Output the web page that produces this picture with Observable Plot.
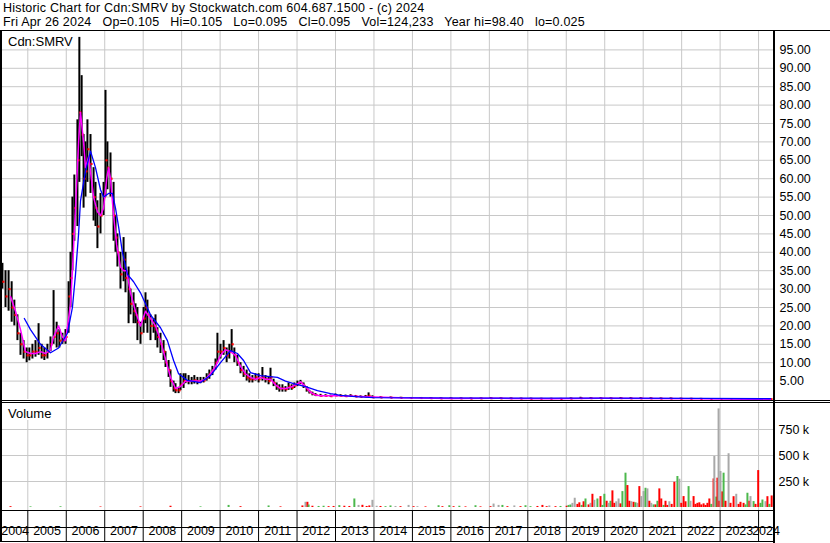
<!DOCTYPE html>
<html><head><meta charset="utf-8">
<script src="https://cdn.jsdelivr.net/npm/d3@7"></script>
<script src="https://cdn.jsdelivr.net/npm/@observablehq/plot@0.6"></script>
<style>
html,body{margin:0;padding:0;background:#fff;}
#wrap{position:relative;width:830px;height:543px;overflow:hidden;font-family:"Liberation Sans",Arial,sans-serif;color:#000;background:#fff;}
.hl{position:absolute;left:3px;font-size:12.5px;line-height:13px;letter-spacing:0.2px;white-space:pre;}
.ln{position:absolute;background:#000;}
.tag{position:absolute;left:2px;background:#fff;font-size:13px;line-height:13px;height:13px;padding:4px 3px 0 6px;white-space:pre;}
#price,#vol{position:absolute;left:0;}
#price{top:31px;} #vol{top:403px;}
</style></head>
<body><div id="wrap">
<div class="hl" style="top:2px">Historic Chart for Cdn:SMRV by Stockwatch.com 604.687.1500 - (c) 2024</div>
<div class="hl" style="top:16px">Fri Apr 26 2024   Op=0.105   Hi=0.105   Lo=0.095   Cl=0.095   Vol=124,233   Year hi=98.40   lo=0.025</div>
<div class="ln" style="left:0;top:30px;width:830px;height:1px"></div>
<div id="price"></div>
<div id="vol"></div>
<div class="tag" style="top:31px">Cdn:SMRV</div>
<div class="tag" style="top:403px">Volume</div>
<div class="ln" style="left:0;top:400px;width:830px;height:1px"></div>
<div class="ln" style="left:0;top:402px;width:830px;height:1px"></div>
<div class="ln" style="left:0;top:510px;width:775px;height:1px"></div>
<div class="ln" style="left:0;top:527px;width:775px;height:1px"></div>
<div class="ln" style="left:0;top:541px;width:775px;height:1px"></div>
<div class="ln" style="left:0;top:31px;width:2px;height:511px"></div>
<div class="ln" style="left:773px;top:31px;width:2px;height:512px"></div>
</div>
<script>
// ---- data (decimal years) ----
const xStart = 2004.342, xEnd = 2024.388;
const yearTicks = [2005,2006,2007,2008,2009,2010,2011,2012,2013,2014,2015,2016,2017,2018,2019,2020,2021,2022,2023,2024];
const yearLabels = [2004,2005,2006,2007,2008,2009,2010,2011,2012,2013,2014,2015,2016,2017,2018,2019,2020,2021,2022,2023,2024];
const priceTicks = [5,10,15,20,25,30,35,40,45,50,55,60,65,70,75,80,85,90,95];
const volTicks = [250000,500000,750000];

const priceYear = [2004.34,2004.42,2004.50,2004.58,2004.65,2004.73,2004.81,2004.89,2004.97,2005.04,2005.12,2005.20,2005.28,2005.36,2005.43,2005.51,2005.59,2005.67,2005.75,2005.82,2005.90,2005.98,2006.06,2006.11,2006.16,2006.21,2006.29,2006.34,2006.40,2006.45,2006.50,2006.55,2006.63,2006.71,2006.76,2006.81,2006.89,2006.97,2007.02,2007.07,2007.15,2007.23,2007.28,2007.33,2007.41,2007.49,2007.54,2007.62,2007.67,2007.75,2007.80,2007.85,2007.93,2008.01,2008.06,2008.11,2008.19,2008.27,2008.32,2008.37,2008.45,2008.53,2008.58,2008.66,2008.71,2008.79,2008.84,2008.92,2008.97,2009.05,2009.10,2009.18,2009.26,2009.33,2009.41,2009.49,2009.57,2009.65,2009.72,2009.80,2009.88,2009.93,2010.01,2010.09,2010.17,2010.24,2010.30,2010.37,2010.45,2010.53,2010.61,2010.69,2010.76,2010.84,2010.92,2011.00,2011.10,2011.18,2011.26,2011.31,2011.39,2011.47,2011.54,2011.62,2011.70,2011.78,2011.86,2011.93,2012.01,2012.09,2012.17,2012.25,2012.32,2012.40,2012.48,2012.61,2012.74,2012.87,2013.00,2013.13,2013.26,2013.39,2013.52,2013.65,2013.78,2013.86,2013.96,2014.17,2014.43,2014.69,2014.95,2015.21,2015.47,2015.73,2015.99,2016.25,2016.51,2016.77,2017.03,2017.29,2017.55,2017.81,2018.07,2018.33,2018.59,2018.85,2019.11,2019.37,2019.63,2019.89,2020.15,2020.41,2020.67,2020.93,2021.19,2021.45,2021.71,2021.97,2022.23,2022.49,2022.75,2023.01,2023.27,2023.53,2023.79,2024.05,2024.31];
const priceHigh = [37,35,35,32,27,23,18,16,14,14,15,16,20.6,15,14,15,17,29.6,21,19,18,19,32,40,55,61,76,98.4,88,72,70,76,72,63,59,54,56,59,84,70,67,59,50,45,40,44,40,36,30,29,26,25,21,25,29,27,23,22,23,19.5,18,16,13,10.6,8,5,4.3,3.3,7,7,7,6.5,6,6.5,6,6,6,7,8,9,11,18,15,16,14,15,19,14,12,10,9,8,7,6.5,7,7,8.7,6.5,6,8.5,5.5,4.5,4,4,3.5,4.5,4,4.5,5,5.2,4.5,3.5,2.5,2,1.6,1.4,1.3,1.2,1.5,1.3,1.2,1.3,1.1,1.0,1.1,1.8,1.0,0.8,0.7,0.6,0.55,0.5,0.5,0.45,0.45,0.4,0.4,0.4,0.5,0.45,0.4,0.35,0.35,0.3,0.3,0.3,0.4,0.6,0.5,0.5,0.45,0.55,0.5,0.5,0.45,0.4,0.4,0.35,0.3,0.3,0.25,0.25,0.2,0.2,0.15,0.15,0.105];
const priceLow = [30,25,24,21,20,16,12,11,10,10.5,11,11.5,12,11,10.6,11,13,15,14,14,15,15,18,25,35,43,47,59,66,52,55,59,56,48.5,47,41,45,50,55,57,55,43,40,36,30,32,29,20.6,23,20.6,20.6,16,15,18,20.6,18,16,18,16,14,12.5,10.6,8.7,6,3.3,2,1.6,1.6,2.4,3,4.3,4,4,4.2,4,4.3,4.5,5,5.5,6.5,8,10,11,12,10,11,13,10,9,7,6,5,4.5,4.5,5,4.5,5,4.5,4,5,3.5,2.5,2,2,2,2.5,2.5,3,3.5,4,3,2,1.5,1,0.8,0.7,0.7,0.6,0.8,0.7,0.6,0.7,0.6,0.5,0.5,0.6,0.4,0.4,0.35,0.3,0.3,0.25,0.25,0.2,0.2,0.2,0.2,0.2,0.25,0.2,0.2,0.15,0.15,0.15,0.1,0.1,0.15,0.2,0.2,0.2,0.15,0.2,0.2,0.2,0.2,0.15,0.15,0.1,0.1,0.1,0.08,0.05,0.05,0.05,0.05,0.05,0.095];
const priceClose = [32,28,30,25,23,18,15,13,12,12,13,13,14,12,12,13,15,17,18,16,16,17,28,33,45,52,65,78,72,60,62,68,64,55,52,47,50,55,65,63,60,50,44,40,34,38,33,30,26,24,23,21,18,22,25,23,20,20,19,17,15,13,10,8,5,3,2.5,2.5,4,5,5,5,5,5.2,5,5,5.2,6,7,8,10,13,13,14,12,13,15,12,10,8,7,6,5.5,5.5,6,5.5,6,5.5,5,6,4.5,3.5,3,3,2.8,3.5,3.2,3.8,4.2,4.5,3.7,2.7,2,1.5,1.2,1.0,1.0,0.9,1.1,1.0,0.9,1.0,0.8,0.7,0.8,1.0,0.6,0.55,0.5,0.45,0.4,0.4,0.35,0.3,0.3,0.3,0.25,0.3,0.35,0.3,0.3,0.25,0.2,0.2,0.2,0.15,0.25,0.35,0.35,0.3,0.3,0.35,0.3,0.3,0.3,0.25,0.25,0.2,0.2,0.15,0.12,0.1,0.1,0.1,0.1,0.1,0.095];

const maShortYear = [2004.55,2004.68,2004.81,2004.94,2005.07,2005.20,2005.33,2005.46,2005.59,2005.67,2005.80,2005.90,2005.98,2006.06,2006.11,2006.16,2006.24,2006.32,2006.37,2006.45,2006.50,2006.58,2006.63,2006.71,2006.81,2006.89,2006.97,2007.05,2007.10,2007.15,2007.23,2007.31,2007.41,2007.49,2007.57,2007.67,2007.80,2007.93,2008.06,2008.19,2008.32,2008.45,2008.58,2008.71,2008.84,2008.97,2009.10,2009.23,2009.49,2009.62,2009.75,2009.88,2010.01,2010.14,2010.27,2010.40,2010.53,2010.66,2010.79,2010.92,2011.05,2011.18,2011.31,2011.44,2011.57,2011.70,2011.83,2011.96,2012.09,2012.22,2012.35,2012.48,2012.61,2013.13,2013.65,2013.99,2014.69,2015.99,2017.29,2018.59,2019.89,2021.19,2022.49,2023.79,2024.31];
const maShort = [28,24,19,13,12.5,12.5,13,12.5,13.5,17,20,17,16,22,26,35,52,70,78,70,63,66,62,55,51,50,52,60,63,60,50,42,36,35,35,29,24,20,24,22,20,16,11,6,3,3.5,5,5,5,5.5,7,9,12,13.5,13,12,9,7,6,5.5,6,5.5,5.5,4,3,3,3.3,4,4.8,3.5,2,1.2,1,1,0.8,0.7,0.45,0.3,0.32,0.2,0.32,0.3,0.17,0.1,0.1];

const maLongYear = [2004.91,2005.07,2005.33,2005.59,2005.80,2006.03,2006.16,2006.24,2006.32,2006.37,2006.50,2006.63,2006.76,2006.89,2006.97,2007.10,2007.20,2007.28,2007.36,2007.46,2007.59,2007.75,2007.93,2008.06,2008.19,2008.45,2008.63,2008.79,2008.92,2009.15,2009.49,2009.75,2010.01,2010.27,2010.45,2010.61,2010.79,2011.05,2011.49,2011.70,2011.91,2012.22,2012.53,2012.87,2013.13,2013.52,2013.99,2015.21,2017.29,2019.89,2022.49,2024.31];
const maLong = [22,19,15,12.7,14,18,25,34,45,54,62,67.5,63,57,55,56,56,52,47,40,34,32,29,26,23,19.5,16,10.6,7,5.2,4.6,6.5,10,13.3,12.5,10.6,7.3,6.5,6,5,4.3,3.5,2.4,1.6,1.1,0.8,0.5,0.45,0.4,0.35,0.3,0.2];

const volYear = [2004.55,2005.07,2005.85,2006.89,2007.93,2008.71,2009.49,2010.22,2010.53,2011.26,2011.57,2012.14,2012.22,2012.27,2012.30,2012.40,2012.56,2012.69,2012.82,2012.95,2013.10,2013.23,2013.36,2013.49,2013.60,2013.70,2013.81,2013.88,2013.96,2014.07,2014.17,2014.30,2014.43,2014.56,2014.69,2014.90,2015.03,2015.13,2015.34,2015.68,2015.78,2015.96,2016.07,2016.22,2016.38,2016.64,2016.77,2017.03,2017.11,2017.24,2017.34,2017.47,2017.65,2017.81,2017.94,2018.07,2018.25,2018.38,2018.49,2018.56,2018.72,2018.85,2019.01,2019.06,2019.11,2019.16,2019.22,2019.29,2019.34,2019.40,2019.45,2019.50,2019.58,2019.63,2019.68,2019.73,2019.81,2019.89,2019.94,2019.99,2020.05,2020.10,2020.15,2020.20,2020.25,2020.30,2020.36,2020.41,2020.46,2020.54,2020.59,2020.64,2020.69,2020.75,2020.80,2020.85,2020.90,2020.95,2021.01,2021.06,2021.11,2021.16,2021.21,2021.27,2021.32,2021.37,2021.42,2021.47,2021.53,2021.58,2021.63,2021.68,2021.74,2021.81,2021.89,2021.94,2021.99,2022.05,2022.10,2022.18,2022.23,2022.31,2022.36,2022.41,2022.46,2022.51,2022.57,2022.62,2022.67,2022.72,2022.77,2022.83,2022.85,2022.90,2022.93,2022.96,2022.98,2023.01,2023.06,2023.09,2023.14,2023.22,2023.27,2023.35,2023.42,2023.48,2023.53,2023.61,2023.66,2023.71,2023.76,2023.79,2023.87,2023.92,2023.99,2024.05,2024.10,2024.18,2024.23,2024.28,2024.34];
const volK = [8,6,7,5,6,12,6,20,8,15,6,15,50,50,24,12,10,12,8,10,18,12,10,82,20,21,10,15,69,12,10,8,15,10,8,20,8,8,6,17,8,17,8,12,6,17,6,8,33,20,20,8,15,8,17,8,10,20,8,15,8,10,12,20,24,40,89,30,45,20,55,82,25,40,127,69,82,105,20,127,60,40,60,160,40,55,82,35,153,330,211,60,56,50,45,40,201,105,153,185,179,60,40,25,25,60,179,82,20,60,20,55,30,243,298,272,40,105,55,201,60,105,30,40,45,25,35,20,40,82,30,275,491,100,282,948,60,346,150,330,60,517,40,104,127,30,50,40,25,137,60,105,57,30,355,40,72,56,104,30,111];
const volDir = ["d","u","u","d","d","d","u","u","d","u","d","d","n","d","u","d","u","u","d","d","u","d","d","u","n","d","d","d","n","n","d","u","u","n","d","n","d","n","d","u","d","u","d","u","d","u","d","d","n","n","u","d","n","d","u","u","d","d","d","n","d","u","d","u","u","n","n","d","d","u","d","u","d","n","d","n","u","d","u","u","d","n","u","d","d","n","n","d","u","u","d","d","n","d","u","n","d","n","n","u","n","d","n","u","d","u","d","d","u","d","d","n","d","d","u","n","d","d","d","u","n","d","d","d","d","d","d","d","d","d","u","d","n","u","d","n","d","n","d","u","d","n","d","d","n","d","d","d","u","u","d","n","u","d","d","u","u","n","d","u","d"];

// ---- build ----
const font = '"Liberation Sans", Arial, sans-serif';
const grid = "#c8c8c8";
const volColor = {u: "#4cb84c", d: "#ff0000", n: "#a8a8a8"};
const prices = priceYear.map((t, i) => ({t, hi: priceHigh[i], lo: priceLow[i], cl: priceClose[i]}));
const maS = maShortYear.map((t, i) => ({t, v: maShort[i]}));
const maL = maLongYear.map((t, i) => ({t, v: maLong[i]}));
const vols = volYear.map((t, i) => ({t, v: volK[i] * 1000, dir: volDir[i]}));
const style = {fontFamily: font, fontSize: "12.5px", color: "#000", background: "transparent", overflow: "visible"};

const pricePlot = Plot.plot({
  width: 830, height: 369, marginLeft: 2, marginRight: 57, marginTop: 0, marginBottom: 1,
  style,
  x: {type: "linear", domain: [xStart, xEnd], axis: null},
  y: {type: "linear", domain: [0, 100], axis: null},
  marks: [
    Plot.ruleX(yearTicks, {stroke: grid}),
    Plot.ruleY(priceTicks, {stroke: grid}),
    Plot.ruleX(prices, {x: "t", y1: "lo", y2: "hi", stroke: "#000", strokeWidth: 2}),
    Plot.dot(prices, {x: "t", y: "cl", symbol: "square", r: 1.2, fill: "#ff0000", dx: 1}),
    Plot.line(maS, {x: "t", y: "v", stroke: "#ff00ff", strokeWidth: 1.5}),
    Plot.line(maL, {x: "t", y: "v", stroke: "#0000ff", strokeWidth: 1.3}),
    Plot.axisY(priceTicks, {anchor: "right", tickSize: 0, tickPadding: 6, tickFormat: d => d.toFixed(2), label: null})
  ]
});
document.getElementById("price").append(pricePlot);

const volPlot = Plot.plot({
  width: 830, height: 140, marginLeft: 2, marginRight: 57, marginTop: 0, marginBottom: 33,
  style,
  x: {type: "linear", domain: [xStart, xEnd], axis: null},
  y: {type: "linear", domain: [0, 1000000], range: [104, 0], axis: null},
  marks: [
    Plot.ruleX(yearTicks, {stroke: grid}),
    Plot.ruleY(volTicks, {stroke: grid}),
    Plot.ruleX(vols, {x: "t", y1: 0, y2: "v", stroke: d => volColor[d.dir], strokeWidth: 2}),
    Plot.axisY(volTicks, {anchor: "right", tickSize: 0, tickPadding: 5, tickFormat: d => (d / 1000) + " k", label: null}),
    Plot.axisX(yearTicks, {anchor: "bottom", tickSize: 32, tickPadding: 0, fill: "none", label: null}),
    Plot.text(yearLabels, {
      x: d => (Math.max(d, xStart) + Math.min(d + 1, xEnd)) / 2,
      text: d => String(d), frameAnchor: "bottom", dy: 24, fontSize: 12.5
    })
  ]
});
document.getElementById("vol").append(volPlot);
</script>
</body></html>
